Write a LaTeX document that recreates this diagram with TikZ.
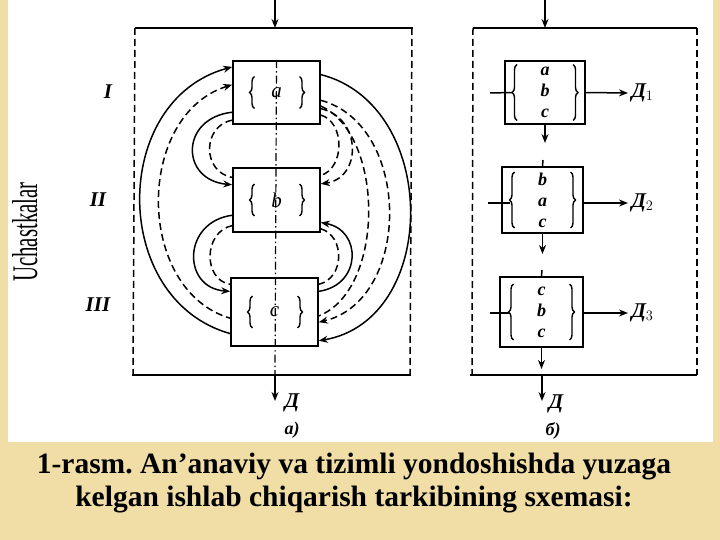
\documentclass[tikz,border=0pt]{standalone}
\usepackage{fontspec}
\setmainfont{Liberation Serif}
\usetikzlibrary{shapes, arrows.meta, positioning, calc, decorations.pathreplacing}
\definecolor{slidebg}{RGB}{240,222,166}
\frenchspacing
\tikzstyle{unit} = [rectangle, draw, line width=1.6pt, minimum width=87pt, minimum height=63pt, inner sep=0pt, font=\itshape\fontsize{21}{21}\selectfont]
\tikzstyle{stack} = [rectangle, draw, line width=1.6pt, minimum width=81pt, minimum height=63pt, inner sep=0pt, align=center, font=\bfseries\itshape\fontsize{18}{21}\selectfont]
\tikzstyle{curly} = [decorate, decoration={brace, amplitude=5pt}, line width=1.4pt]
\tikzstyle{link} = [line width=1.5pt]
\tikzstyle{flow} = [line width=1.5pt, -{Stealth[length=9pt,width=7pt]}]
\tikzstyle{feedback} = [line width=1.5pt, dash pattern=on 7pt off 4pt]
\tikzstyle{centerline} = [line width=1.2pt, dash pattern=on 8pt off 3pt on 1.5pt off 3pt]
\tikzstyle{tag} = [font=\bfseries\itshape\fontsize{21}{21}\selectfont]
\tikzstyle{yield} = [font=\bfseries\itshape\fontsize{21}{21}\selectfont]

\begin{document}
\begin{tikzpicture}[x=1pt, y=-1pt]
  % slide
  \fill[slidebg] (0,0) rectangle (720,540);
  \fill[white] (8,0) rectangle (713,442);
  \useasboundingbox (0,0) rectangle (720,540);

  % side label
  \node[rotate=90, anchor=base, inner sep=0pt] (uch) at (37,232) {\scalebox{0.58}[1]{\fontsize{36}{36}\selectfont Uchastkalar}};

  % stages
  \node[tag] (I) at (108,92) {I};
  \node[tag] (II) at (98,200) {II};
  \node[tag] (III) at (98,305) {III};

  % a) frame
  \draw[link] (135,28) -- (413,28);
  \draw[link] (132,375) -- (411,375);
  \draw[feedback] (135,28) -- (133,375);
  \draw[feedback] (412,28) -- (410,375);

  % a) sections
  \node[unit] (A) at (276.5,92.5) {a};
  \node[unit, minimum height=64pt] (B) at (276.5,200) {b};
  \node[unit, minimum height=68pt] (C) at (274.5,312) {c};
  \foreach \s in {A,B,C} {
    \draw[curly] ($(\s.center)+(-22,16)$) -- ($(\s.center)+(-22,-16)$);
    \draw[curly] ($(\s.center)+(23,-16)$) -- ($(\s.center)+(23,16)$);
  }

  \coordinate (inA) at (275,0);
  \coordinate (topA) at (275,28);
  \coordinate (botA) at (275,375);
  \coordinate (outA) at (275,401);
  \draw[flow] (inA) -- (topA);
  \draw[centerline] (A.north) -- (botA);
  \draw[flow] (botA) -- (outA);
  \node[yield] (DA) at (292,403) {Д};
  \node[yield, font=\bfseries\itshape\fontsize{18}{18}\selectfont] (capA) at (292,430) {а)};

  % a) links, left side
  \draw[link, {Stealth[length=9pt,width=7pt]}-] (A.150) .. controls (110,100) and (110,300) .. (C.206);
  \draw[feedback, {Stealth[length=9pt,width=7pt]}-] (A.170) .. controls (135,115) and (135,290) .. (C.188);
  \draw[flow] (A.204) .. controls (180,118) and (180,180) .. (B.161);
  \draw[feedback] (A.212) .. controls (202,126) and (202,172) .. (B.153);
  \draw[flow] (B.199) .. controls (182,222) and (182,288) .. (C.155);
  \draw[feedback] (B.210) .. controls (203,232) and (203,280) .. (C.148);

  % a) links, right side
  \draw[flow] (A.22) .. controls (440,105) and (440,320) .. (C.-33);
  \draw[feedback, -{Stealth[length=9pt,width=7pt]}] (A.-10) .. controls (412,125) and (412,300) .. (C.-13);
  \draw[feedback] (A.-17) .. controls (385,135) and (385,290) .. (C.-5);
  \draw[feedback, -{Stealth[length=9pt,width=7pt]}] (A.-20) .. controls (362,118) and (362,178) .. (B.20);
  \draw[feedback] (A.-27) .. controls (345,122) and (345,168) .. (B.29);
  \draw[link, {Stealth[length=9pt,width=7pt]}-] (B.-27) .. controls (362,230) and (362,285) .. (C.25);
  \draw[feedback] (B.-33) .. controls (345,236) and (345,278) .. (C.32);

  % b) frame
  \draw[link] (473,28) -- (697,28);
  \draw[link] (470,375) -- (697,375);
  \draw[feedback] (473,28) -- (472,375);
  \draw[feedback] (697,28) -- (697,375);

  % b) sections
  \node[stack, minimum width=80pt] (R1) at (545,92.5) {a\\b\\c};
  \node[stack, minimum height=66pt] (R2) at (542.5,200) {b\\a\\c};
  \node[stack, minimum width=83pt, minimum height=70pt] (R3) at (541.5,312) {c\\b\\c};
  \foreach \s in {R1,R2,R3} {
    \draw[curly] ($(\s.center)+(-28,28)$) -- ($(\s.center)+(-28,-28)$);
    \draw[curly] ($(\s.center)+(28,-28)$) -- ($(\s.center)+(28,28)$);
  }

  % b) outputs
  \node[yield, anchor=west] (D1) at (628,93) {Д$_{1}$};
  \node[yield, anchor=west] (D2) at (628,203) {Д$_{2}$};
  \node[yield, anchor=west] (D3) at (628,313) {Д$_{3}$};
  \draw[flow] (R1.east) -- (D1.west);
  \draw[flow] (R2.east |- D2.west) -- (D2.west);
  \draw[flow] (R3.east |- D3.west) -- (D3.west);

  % b) inputs
  \coordinate (in1) at (490,93);
  \coordinate (in2) at (488,203);
  \coordinate (in3) at (490,313);
  \draw[link] (in1) -- ($(R1.center)+(-33,0)$);
  \draw[link] (in2) -- ($(R2.center |- in2)+(-33,0)$);
  \draw[link] (in3) -- ($(R3.center |- in3)+(-33,0)$);

  % b) stream
  \coordinate (inB) at (545,0);
  \coordinate (topB) at (545,28);
  \coordinate (m1) at (545,143);
  \coordinate (t2) at (543,160);
  \coordinate (m2) at (542.5,254);
  \coordinate (t3) at (542,270);
  \coordinate (m3) at (541.5,369);
  \coordinate (botB) at (542,375);
  \coordinate (outB) at (542,401);
  \draw[flow] (inB) -- (topB);
  \draw[flow] (R1.south) -- (m1);
  \draw[link] (t2) -- (R2.north);
  \draw[flow] (R2.south) -- (m2);
  \draw[link] (t3) -- (R3.north);
  \draw[flow] (R3.south) -- (m3);
  \draw[flow] (botB) -- (outB);
  \node[yield] (DB) at (556,404) {Д};
  \node[yield, font=\bfseries\itshape\fontsize{18}{18}\selectfont] (capB) at (553,431) {б)};

  % caption
  \node[font=\bfseries\fontsize{29.5}{33}\selectfont, align=center] (cap) at (354,483) {1-rasm. An’anaviy va tizimli yondoshishda yuzaga\\kelgan ishlab chiqarish tarkibining sxemasi:};
\end{tikzpicture}
\end{document}
